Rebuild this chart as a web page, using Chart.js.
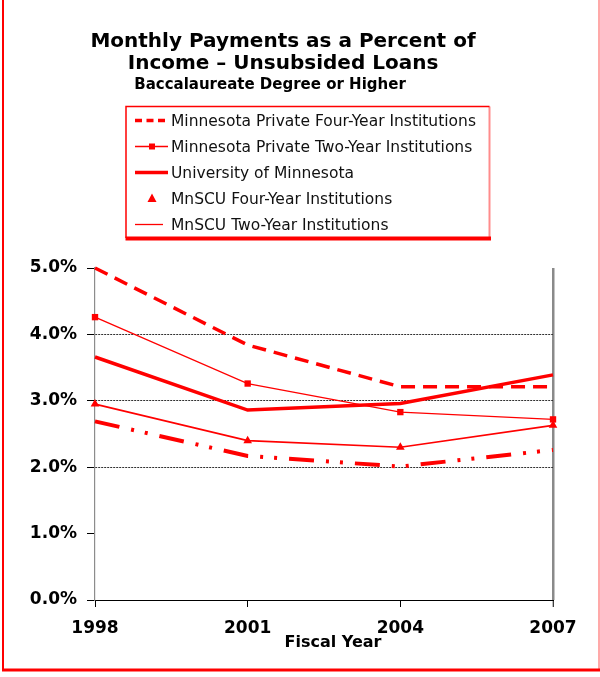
<!DOCTYPE html>
<html>
<head>
<meta charset="utf-8">
<title>Monthly Payments as a Percent of Income</title>
<script src="https://cdn.jsdelivr.net/npm/chart.js@4/dist/chart.umd.min.js"></script>
<style>
  html, body { margin: 0; padding: 0; background: #fff; }
  canvas { display: block; }
</style>
</head>
<body>
<canvas id="chart" width="600" height="677"></canvas>
<script>
// Fiscal years on the x axis
const years = ['1998', '2001', '2004', '2007'];

// Monthly payment as a percent of income, by sector
const privateFourYear = [5.00, 3.84, 3.21, 3.21];
const privateTwoYear  = [4.26, 3.26, 2.83, 2.72];
const univMinnesota   = [3.66, 2.86, 2.96, 3.39];
const mnscuFourYear   = [2.95, 2.40, 2.30, 2.63];
const mnscuTwoYear    = [2.69, 2.17, 2.01, 2.26];

const seriesNames = [
  'Minnesota Private Four-Year Institutions',
  'Minnesota Private Two-Year Institutions',
  'University of Minnesota',
  'MnSCU Four-Year Institutions',
  'MnSCU Two-Year Institutions'
];

const titleLines = ['Monthly Payments as a Percent of', 'Income \u2013 Unsubsided Loans'];
const subtitleText = 'Baccalaureate Degree or Higher';
const xAxisTitle = 'Fiscal Year';

const RED = '#ff0000';
const FONT = "'DejaVu Sans', sans-serif";

Chart.defaults.font.family = FONT;
Chart.defaults.color = '#000';

// Titles, legend panel, axis title and outer frame
const decorPlugin = {
  id: 'decor',
  afterDraw(chart) {
    const ctx = chart.ctx;
    ctx.save();

    // outer frame (left, right, bottom)
    ctx.strokeStyle = RED;
    ctx.lineWidth = 2;
    ctx.beginPath(); ctx.moveTo(3, 0); ctx.lineTo(3, 671); ctx.stroke();
    ctx.lineWidth = 3;
    ctx.beginPath(); ctx.moveTo(2, 670); ctx.lineTo(600, 670); ctx.stroke();
    ctx.strokeStyle = 'rgba(255,0,0,0.45)';
    ctx.lineWidth = 1.5;
    ctx.beginPath(); ctx.moveTo(599, 0); ctx.lineTo(599, 670); ctx.stroke();

    // titles
    ctx.fillStyle = '#000';
    ctx.textAlign = 'center';
    ctx.textBaseline = 'middle';
    ctx.font = "bold 20px " + FONT;
    ctx.fillText(titleLines[0], 283, 42);
    ctx.fillText(titleLines[1], 283, 64);
    ctx.font = "bold 15px " + FONT;
    ctx.fillText(subtitleText, 270, 85);

    // legend panel
    ctx.strokeStyle = RED;
    ctx.lineWidth = 1.5;
    ctx.beginPath();
    ctx.moveTo(126, 238); ctx.lineTo(126, 106.5); ctx.lineTo(489.5, 106.5);
    ctx.stroke();
    ctx.strokeStyle = 'rgba(255,0,0,0.45)';
    ctx.lineWidth = 2;
    ctx.beginPath(); ctx.moveTo(489.5, 106.5); ctx.lineTo(489.5, 237); ctx.stroke();
    ctx.fillStyle = RED;
    ctx.fillRect(125.5, 236.5, 365.5, 4);

    const rowY = i => 120.5 + i * 26;
    ctx.strokeStyle = RED;
    ctx.fillStyle = RED;
    ctx.lineCap = 'butt';

    // dashed thick
    ctx.setLineDash([7, 4.5]);
    ctx.lineWidth = 3.5;
    ctx.beginPath(); ctx.moveTo(135, rowY(0)); ctx.lineTo(167, rowY(0)); ctx.stroke();
    ctx.setLineDash([]);
    // thin with square
    ctx.lineWidth = 1.3;
    ctx.beginPath(); ctx.moveTo(135, rowY(1)); ctx.lineTo(168, rowY(1)); ctx.stroke();
    ctx.fillRect(149, rowY(1) - 3, 6, 6);
    // thick solid
    ctx.lineWidth = 3.5;
    ctx.beginPath(); ctx.moveTo(135, rowY(2)); ctx.lineTo(168, rowY(2)); ctx.stroke();
    // triangle
    ctx.beginPath();
    ctx.moveTo(152, rowY(3) - 5); ctx.lineTo(156.5, rowY(3) + 3.5); ctx.lineTo(147.5, rowY(3) + 3.5);
    ctx.closePath(); ctx.fill();
    // thin solid
    ctx.lineWidth = 1.3;
    ctx.beginPath(); ctx.moveTo(135, rowY(4)); ctx.lineTo(163, rowY(4)); ctx.stroke();

    ctx.fillStyle = '#111';
    ctx.textAlign = 'left';
    ctx.font = "15.5px " + FONT;
    seriesNames.forEach((name, i) => ctx.fillText(name, 171, rowY(i) + 1));

    // x axis title
    ctx.fillStyle = '#000';
    ctx.textAlign = 'center';
    ctx.font = "bold 16px " + FONT;
    ctx.fillText(xAxisTitle, 333, 643);

    ctx.restore();
  }
};

const keepGrid = [2, 3, 4];

new Chart(document.getElementById('chart'), {
  type: 'line',
  data: {
    labels: years,
    datasets: [
      {
        label: seriesNames[0], data: privateFourYear,
        borderColor: RED, borderWidth: 3.5, borderDash: [14, 8],
        pointRadius: 0, tension: 0, clip: false
      },
      {
        label: seriesNames[1], data: privateTwoYear,
        borderColor: RED, borderWidth: 1.3,
        pointStyle: 'rect', pointRadius: 4.5, pointBackgroundColor: RED, pointBorderColor: RED, pointBorderWidth: 0,
        tension: 0, clip: false
      },
      {
        label: seriesNames[2], data: univMinnesota,
        borderColor: RED, borderWidth: 3.5,
        pointRadius: 0, tension: 0, clip: false
      },
      {
        label: seriesNames[3], data: mnscuFourYear,
        borderColor: RED, borderWidth: 1.6,
        pointStyle: 'triangle', pointRadius: 5, pointBackgroundColor: RED, pointBorderColor: RED, pointBorderWidth: 0,
        tension: 0, clip: false
      },
      {
        label: seriesNames[4], data: mnscuTwoYear,
        borderColor: RED, borderWidth: 4, borderDash: [25, 12, 3, 11, 3, 12],
        pointRadius: 0, tension: 0, clip: false
      }
    ]
  },
  options: {
    responsive: false,
    animation: false,
    devicePixelRatio: 1,
    layout: { padding: { top: 268, left: 0, right: 47, bottom: 37 } },
    plugins: {
      legend: { display: false },
      title: { display: false },
      tooltip: { enabled: false }
    },
    scales: {
      x: {
        type: 'category',
        offset: false,
        afterFit: s => { s.height = 40; },
        border: { color: '#000', width: 1 },
        grid: {
          color: c => c.index === years.length - 1 ? '#8a8a8a' : 'rgba(0,0,0,0)',
          lineWidth: c => c.index === years.length - 1 ? 2.5 : 1,
          tickColor: '#000', tickWidth: 1, tickLength: 7
        },
        ticks: { font: { size: 17, weight: 'bold' }, color: '#000', padding: 11, maxRotation: 0 }
      },
      y: {
        min: 0, max: 5,
        afterFit: s => { s.width = 95; },
        border: { color: '#8c8c8c', width: 1.2, dash: [2, 1] },
        grid: {
          color: c => keepGrid.includes(c.tick.value) ? '#303030' : 'rgba(0,0,0,0)',
          lineWidth: 1,
          tickColor: '#000', tickWidth: 1, tickLength: 8
        },
        ticks: {
          stepSize: 1,
          font: { size: 17, weight: 'bold' }, color: '#000', padding: 10,
          callback: v => v.toFixed(1) + '%'
        }
      }
    }
  },
  plugins: [decorPlugin]
});
</script>
</body>
</html>
